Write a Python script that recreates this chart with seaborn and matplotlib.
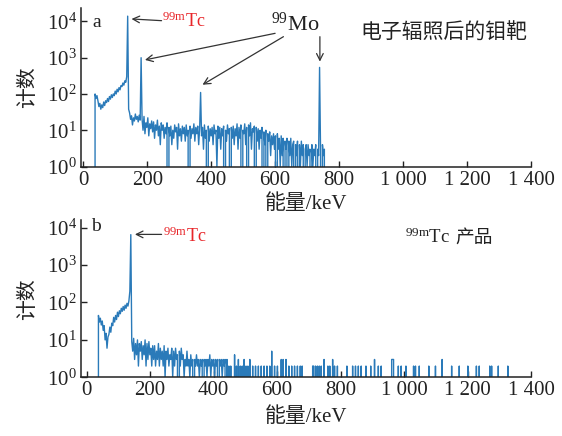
import numpy as np
import pandas as pd
import seaborn as sns
import matplotlib.pyplot as plt
from matplotlib.ticker import LogLocator, NullFormatter

# channel grid: 3 keV per channel, first channel at 37 keV
START = 37
STEP = 3

# (a) irradiated Mo target, counts per channel 37 ... 754 keV
counts_a = [
    100, 75, 90, 65, 45, 55, 38, 50, 42, 60, 48, 65,          # 37-70
    58, 75, 62, 85, 72, 95, 80, 100, 90, 120, 100, 135,       # 73-106
    115, 150, 130, 170, 160, 200, 175, 230, 210, 300,         # 109-136
    14000,                                                    # 139  99mTc
    38,
    30, 20, 25, 14, 22, 18, 28, 20, 24, 17, 26, 19,           # 145-178
    1000,                                                     # 181  99Mo
    20, 10, 24, 8, 16, 12, 22, 7, 15, 11, 18,                 # 184-214
    9, 17, 6, 14, 10, 19, 7, 13, 4, 16, 10,                   # 217-247
    14, 6, 12, 8, 16, 0, 12, 7, 13, 4, 10,                    # 250-280
    6, 14, 9, 12, 3, 15, 7, 11, 5, 13, 8,                     # 283-313
    12, 5, 14, 7, 10, 0, 13, 6, 11, 8, 15,                    # 316-346
    5, 12, 8, 13, 4, 11,                                      # 349-364
    110,                                                      # 367  99Mo
    7, 12, 3, 14, 6, 10, 0, 13, 5, 11, 7,                     # 370-400
    12, 4, 14, 8, 10, 1, 13, 6, 12, 3, 11,                    # 403-433
    7, 13, 0, 10, 5, 14, 8, 11, 0, 12, 6,                     # 436-466
    13, 4, 11, 7, 15, 3, 12, 6, 14, 0, 10,                    # 469-499
    8, 15, 4, 12, 0, 14, 7, 16, 3, 11, 9,                     # 502-532
    13, 0, 12, 5, 11, 3, 10, 6, 12, 0, 9,                     # 535-565
    4, 10, 0, 8, 5, 9, 2, 7, 4, 8, 3,                         # 568-598
    7, 0, 8, 3, 6, 1, 7, 2, 6, 0, 5,                          # 601-631
    3, 6, 0, 5, 2, 6, 1, 4, 5, 0, 4,                          # 634-664
    2, 5, 0, 4, 1, 5, 2, 4, 0, 3, 4,                          # 667-697
    1, 4, 2, 3, 0, 4, 1, 3, 2, 4, 0, 3, 2,                    # 700-736
    540,                                                      # 739  99Mo
    3, 0, 4, 2, 3,                                            # 742-754
]

# (b) 99mTc product, dense part 37 ... 436 keV
counts_b_dense = [
    45, 30, 38, 25, 32, 18, 24, 10, 15, 6, 12, 14,            # 37-70
    22, 16, 28, 24, 40, 30, 45, 35, 55, 42, 60, 50,           # 73-106
    70, 58, 78, 62, 85, 70, 95, 80, 110, 200,                 # 109-136
    6500,                                                     # 139  99mTc
    9, 5, 11, 3, 8, 4, 10, 2, 8, 5, 9, 3,                     # 142-175
    7, 4, 10, 2, 8, 3, 9, 4, 6, 2, 7, 3,                      # 178-211
    7, 2, 5, 3, 8, 2, 6, 3, 5, 2, 7, 1, 5, 3, 6,              # 214-256
    2, 4, 3, 6, 1, 5, 2, 6, 3, 4, 0, 5, 2, 6, 3,              # 259-301
    4, 1, 3, 2, 5, 2, 3, 1, 4, 2, 3, 0, 3, 2, 4,              # 304-346
    2, 3, 1, 3, 2, 3, 0, 3, 2, 3, 1, 3, 2, 4, 1,              # 349-391
    3, 2, 3, 1, 3, 2, 3, 0, 3, 2, 3, 1, 3, 2, 3,              # 394-436
]
# (b) sparse part up to 1340 keV: isolated channels with counts
spike_kev = [441, 447, 453, 465, 471, 477, 483, 489, 495, 501, 507, 513,
             522, 531, 540, 549, 558, 567, 576, 582, 591, 600, 612, 618,
             627, 636, 645, 654, 663, 672, 678, 713, 716, 722, 728, 734,
             740, 749, 761, 767, 776, 782, 791, 821, 839, 848, 857, 866,
             881, 896, 908, 920, 929, 962, 965, 968, 983, 992, 1007, 1031,
             1037, 1049, 1079, 1100, 1121, 1151, 1175, 1202, 1229, 1238,
             1271, 1277, 1298, 1328]
spike_counts = [3, 2, 2, 4, 2, 3, 2, 2, 3, 2, 2, 3,
                2, 2, 2, 2, 2, 2, 2, 5, 2, 2, 3, 3,
                3, 2, 2, 2, 2, 2, 2, 2, 2, 2, 2, 2,
                2, 3, 2, 2, 3, 2, 2, 2, 2, 2, 2, 2,
                2, 2, 3, 2, 2, 3, 3, 3, 2, 2, 2, 2,
                2, 2, 2, 2, 3, 2, 2, 2, 2, 2,
                2, 2, 2, 2]
END_B = 1340

xticks = [0, 200, 400, 600, 800, 1000, 1200, 1400]
xticklabels = ['0', '200', '400', '600', '800', '1 000', '1 200', '1 400']

# build spectra (leading / trailing zero gives the vertical edges)
ya = np.concatenate([[0], counts_a, [0]]).astype(float)
xa = START + STEP * np.arange(len(counts_a))
xa = np.concatenate([[START], xa, [xa[-1]]])

nb = (END_B - START) // STEP + 1
yb = np.zeros(nb)
yb[:len(counts_b_dense)] = counts_b_dense
for k, c in zip(spike_kev, spike_counts):
    yb[int(round((k - START) / STEP))] = c
xb = np.concatenate([[START], START + STEP * np.arange(nb)])
yb = np.concatenate([[0], yb])

spec_a = pd.DataFrame({'keV': xa, 'counts': ya})
spec_b = pd.DataFrame({'keV': xb, 'counts': yb})

sns.set_theme(style='ticks')
plt.rcParams['font.family'] = ['Liberation Serif', 'Noto Sans CJK SC']
plt.rcParams['mathtext.fontset'] = 'custom'
plt.rcParams['mathtext.rm'] = 'Liberation Serif'
plt.rcParams['mathtext.it'] = 'Liberation Serif:italic'

blue = '#2a7ab9'
ink = '#222222'
fig = plt.figure(figsize=(5.62, 4.36), dpi=100)
ax_a = fig.add_axes([0.1441, 0.6181, 0.8007, 0.3636])
ax_b = fig.add_axes([0.1441, 0.1346, 0.8007, 0.3608])

sns.lineplot(data=spec_a, x='keV', y='counts', ax=ax_a, estimator=None,
             sort=False, color=blue, linewidth=1.0)
sns.lineplot(data=spec_b, x='keV', y='counts', ax=ax_b, estimator=None,
             sort=False, color=blue, linewidth=1.0)

for ax, xl, top, lp in [(ax_a, -7, 23500, 3), (ax_b, -18, 16000, 5)]:
    ax.set_yscale('log')
    ax.set_xlim(xl, 1400)
    ax.set_ylim(1, top)
    ax.set_yticks([1, 10, 100, 1000, 10000])
    ax.yaxis.set_minor_locator(LogLocator(base=10, subs=np.arange(2, 10)))
    ax.yaxis.set_minor_formatter(NullFormatter())
    ax.set_xticks(xticks)
    ax.set_xticklabels(xticklabels)
    ax.tick_params(axis='both', which='major', direction='in', length=4,
                   width=1, labelsize=15, colors=ink, pad=3)
    ax.tick_params(axis='y', which='minor', direction='in', length=2.5, width=0.8)
    ax.tick_params(axis='x', which='minor', bottom=False)
    for s in ['top', 'right']:
        ax.spines[s].set_visible(False)
    for s in ['left', 'bottom']:
        ax.spines[s].set_linewidth(1.1)
        ax.spines[s].set_color(ink)
    ax.set_xlabel('能量/keV', fontsize=15, labelpad=lp, color=ink)
    ax.set_ylabel('计数', fontsize=15, labelpad=6, color=ink)

arrow = dict(arrowstyle='->', color='#333333', lw=0.9, shrinkA=0, shrinkB=0)

# panel a annotations
ax_a.text(41, 9100, 'a', fontsize=14, ha='center', va='center', color=ink)
ax_a.annotate('', xy=(151, 11700), xytext=(245, 10500), arrowprops=arrow)
ax_a.text(247, 10000, r'$^{\mathrm{99m}}$Tc', fontsize=13, color='#e8262a',
          ha='left', va='center')
ax_a.text(588, 8300, r'$^{99}$Mo', fontsize=16, color=ink,
          ha='left', va='center')
ax_a.annotate('', xy=(193, 870), xytext=(600, 4700), arrowprops=arrow)
ax_a.annotate('', xy=(373, 180), xytext=(626, 3800), arrowprops=arrow)
ax_a.annotate('', xy=(740, 780), xytext=(740, 3800), arrowprops=arrow)
ax_a.text(868, 4800, '电子辐照后的钼靶', fontsize=15, color=ink,
          family=['Noto Sans CJK SC'], ha='left', va='center')

# panel b annotations
ax_b.text(29, 11000, 'b', fontsize=14, ha='center', va='center', color=ink)
ax_b.annotate('', xy=(152, 6600), xytext=(236, 6600), arrowprops=arrow)
ax_b.text(240, 6000, r'$^{\mathrm{99m}}$Tc', fontsize=13, color='#e8262a',
          ha='left', va='center')
ax_b.text(1003, 5600, r'$^{\mathrm{99m}}$Tc', fontsize=13.5, color=ink,
          ha='left', va='center')
ax_b.text(1162, 5600, '产品', fontsize=13.5, color=ink,
          family=['Noto Sans CJK SC'], ha='left', va='center')

fig.savefig('out.png', dpi=100)
